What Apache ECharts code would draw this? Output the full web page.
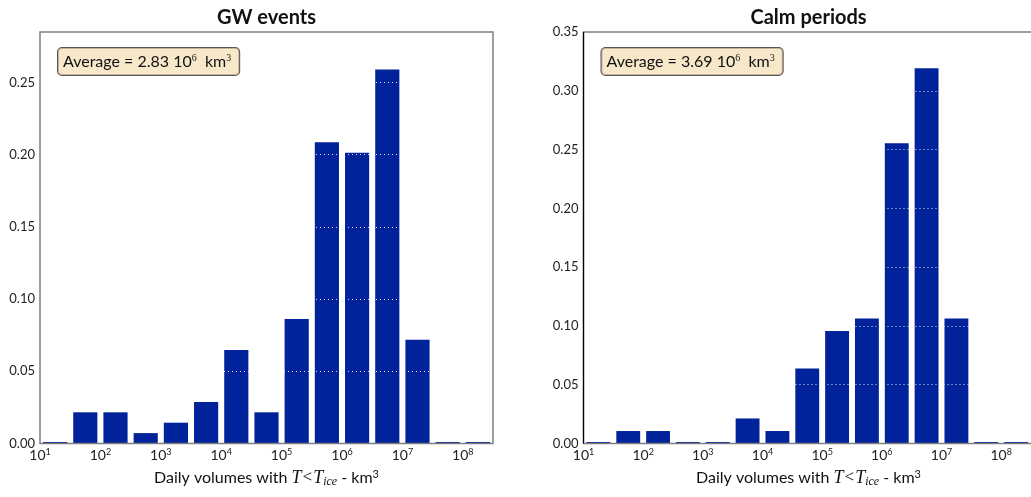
<!DOCTYPE html>
<html>
<head>
<meta charset="utf-8">
<script src="https://cdn.jsdelivr.net/npm/echarts@6/dist/echarts.min.js"></script>
<style>
  html, body { margin: 0; padding: 0; background: #fff; }
  #chart { width: 1031px; height: 497px; }
</style>
</head>
<body>
<div id="chart"></div>
<script>
// Histogram bins: log10 of the bin edges (half-decade bins)
const binEdges = [1, 1.5, 2, 2.5, 3, 3.5, 4, 4.5, 5, 5.5, 6, 6.5, 7, 7.5, 8, 8.5];

// Frequency of daily volumes in each bin
const gwValues   = [0, 0.0216, 0.0216, 0.0072, 0.0144, 0.0288, 0.0647, 0.0216, 0.0863, 0.2086, 0.2014, 0.2590, 0.0719, 0, 0];
const calmValues = [0, 0.0106, 0.0106, 0, 0, 0.0213, 0.0106, 0.0638, 0.0957, 0.1064, 0.2553, 0.3191, 0.1064, 0, 0];

const panelTitles = ['GW events', 'Calm periods'];
const averages = ['2.83', '3.69'];
const yMaxes = [0.285, 0.35];

const FONT = 'Lato, "Open Sans", sans-serif';
const BAR = '#00229a';
const BAR_WIDTH_FRACTION = 0.8;

function binData(values) {
  return values.map((v, i) => [Math.pow(10, binEdges[i]), Math.pow(10, binEdges[i + 1]), v]);
}

function renderBar(params, api) {
  const lo = Math.log10(api.value(0));
  const hi = Math.log10(api.value(1));
  const pad = (hi - lo) * (1 - BAR_WIDTH_FRACTION) / 2;
  const v = api.value(2);
  const p0 = api.coord([Math.pow(10, lo + pad), 0]);
  const p1 = api.coord([Math.pow(10, hi - pad), v]);
  if (v <= 0) {
    return {
      type: 'line',
      shape: { x1: p0[0], y1: p0[1] - 0.5, x2: p1[0], y2: p0[1] - 0.5 },
      style: { stroke: BAR, lineWidth: 2 }
    };
  }
  return {
    type: 'rect',
    shape: { x: p0[0], y: p1[1], width: p1[0] - p0[0], height: p0[1] - p1[1] },
    style: { fill: BAR }
  };
}

const grids = [
  { left: 40, top: 32, width: 453, height: 411.5 },
  { left: 583.5, top: 32, width: 450, height: 411.5 }
];

const chart = echarts.init(document.getElementById('chart'), null, { renderer: 'canvas' });

const graphic = [];
panelTitles.forEach((t, i) => {
  const g = grids[i];
  const cx = g.left + g.width / 2;
  // axes frame, drawn above the dotted grid
  graphic.push({
    type: 'rect', z: 10, silent: true,
    shape: { x: g.left, y: g.top, width: g.width, height: g.height },
    style: { fill: 'none', stroke: '#7f7f7f', lineWidth: 1.5 }
  });
  if (i === 1) {
    graphic.push({
      type: 'line', z: 11, silent: true,
      shape: { x1: g.left, y1: g.top, x2: g.left, y2: g.top + g.height },
      style: { stroke: '#000', lineWidth: 1.2 }
    });
  }
  graphic.push({
    type: 'text', x: cx, y: 18,
    style: { text: t, fill: '#111', font: 'bold 20px ' + FONT, align: 'center', verticalAlign: 'middle' }
  });
  graphic.push({
    type: 'text', x: cx, y: 478,
    style: {
      text: 'Daily volumes with {m|T}{r|<}{m|T}{sub|ice} - km{sup|3}',
      fill: '#111', font: '16px ' + FONT, align: 'center', verticalAlign: 'middle',
      rich: {
        m: { fontFamily: '"Liberation Serif", serif', fontStyle: 'italic', fontSize: 18, fill: '#111' },
        r: { fontFamily: '"Liberation Serif", serif', fontSize: 17, fill: '#111', padding: [0, 1, 0, 1] },
        sub: { fontFamily: '"Liberation Serif", serif', fontStyle: 'italic', fontSize: 12, fill: '#111', verticalAlign: 'bottom', padding: [6, 0, 0, 0] },
        sup: { fontSize: 11, fontFamily: FONT, fill: '#111', verticalAlign: 'top', padding: [0, 0, 8, 0] }
      }
    }
  });
  graphic.push({
    type: 'text', x: g.left + 18, y: 48, z: 12,
    style: {
      text: 'Average = ' + averages[i] + ' 10{sup|6}  km{sup|3}',
      fill: '#111', font: '16px ' + FONT,
      backgroundColor: 'rgba(245, 222, 179, 0.7)',
      borderColor: '#555', borderWidth: 1, borderRadius: 4,
      padding: [5, 8, 4, 5],
      rich: {
        sup: { fontSize: 10, fontFamily: '"Liberation Serif", serif', fill: '#111', verticalAlign: 'top', padding: [0, 0, 8, 0] }
      }
    }
  });
});

chart.setOption({
  animation: false,
  grid: grids.map(g => Object.assign({ show: false }, g)),
  xAxis: grids.map((g, i) => ({
    type: 'log', logBase: 10, gridIndex: i,
    min: Math.pow(10, binEdges[0]), max: Math.pow(10, binEdges[binEdges.length - 1]),
    axisLine: { show: false }, axisTick: { show: false },
    splitLine: { show: false }, minorTick: { show: false },
    axisLabel: {
      margin: 4, color: '#222', fontFamily: FONT, fontSize: 14,
      showMaxLabel: false,
      formatter: v => {
        const e = Math.log10(v);
        const r = Math.round(e);
        return Math.abs(e - r) < 1e-6 ? '10{s|' + r + '}' : '';
      },
      rich: { s: { fontSize: 9, fontFamily: FONT, color: '#222', verticalAlign: 'top', padding: [0, 0, 7, 0] } }
    }
  })),
  yAxis: grids.map((g, i) => ({
    type: 'value', gridIndex: i, min: 0, max: yMaxes[i], interval: 0.05, z: 5,
    axisLine: { show: false },
    axisTick: { show: false },
    axisLabel: {
      margin: 5, color: '#222', fontFamily: FONT, fontSize: 13,
      showMaxLabel: i === 1,
      formatter: v => v.toFixed(2)
    },
    splitLine: { show: true, lineStyle: { color: 'rgba(255,255,255,0.85)', width: 1, type: [1, 3] } }
  })),
  series: [gwValues, calmValues].map((vals, i) => ({
    type: 'custom', xAxisIndex: i, yAxisIndex: i, z: 2,
    renderItem: renderBar,
    encode: { x: [0, 1], y: 2 },
    data: binData(vals)
  })),
  graphic: graphic
});
</script>
</body>
</html>
